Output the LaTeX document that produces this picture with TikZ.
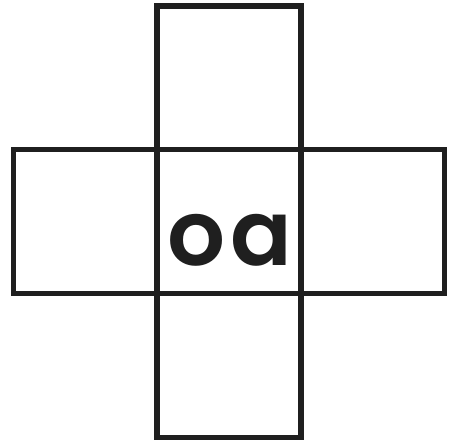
\documentclass[tikz,border=0pt]{standalone}
\usepackage{fontspec}
\newfontfamily\popfont{Poppins SemiBold}
\usetikzlibrary{positioning}

\begin{document}
\begin{tikzpicture}[x=1pt, y=-1pt,
    cell/.style={draw=black!88, line width=5.3pt, minimum size=143.8pt,
      inner sep=0pt, outer sep=0pt},
    node distance=0pt]
  \def\pw{449} \def\ph{442}
  \useasboundingbox (0,0) rectangle (\pw,\ph);

  % centre cell and its four arms
  \node[cell] (mid) at (229,221.6) {};
  \node[cell, above=of mid] (top) {};
  \node[cell, below=of mid] (bot) {};
  \node[cell, left=of mid] (lft) {};
  \node[cell, right=of mid] (rgt) {};

  % label
  \node[font=\popfont\fontsize{91}{100}\selectfont, text=black!88,
    anchor=base, inner sep=0pt] (lbl) at (230,265) {o\kern5pt a};
\end{tikzpicture}
\end{document}
